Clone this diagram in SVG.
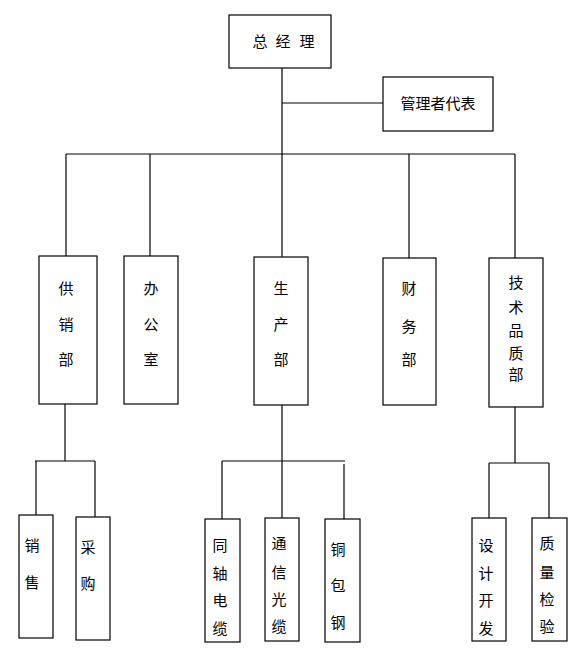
<svg xmlns="http://www.w3.org/2000/svg" width="585" height="657" viewBox="0 0 585 657">
<style>
rect{fill:#fff;stroke:#000;stroke-width:1.2}
line{stroke:#000;stroke-width:1.2}
text{font-family:"Noto Sans CJK SC","Noto Sans CJK JP",sans-serif;font-size:15px;fill:#000;text-anchor:middle}
</style>
<rect x="0" y="0" width="585" height="657" style="stroke:none"/>
<g id="connectors">
<line x1="282" y1="68" x2="282" y2="154"/>
<line x1="282" y1="103" x2="387" y2="103"/>
<line x1="66" y1="154" x2="515" y2="154"/>
<line x1="66" y1="154" x2="66" y2="256"/>
<line x1="150" y1="154" x2="150" y2="256"/>
<line x1="282" y1="154" x2="282" y2="257"/>
<line x1="409" y1="154" x2="409" y2="258"/>
<line x1="515" y1="154" x2="515" y2="258"/>
<line x1="65" y1="404" x2="65" y2="461"/>
<line x1="35" y1="461" x2="95" y2="461"/>
<line x1="36" y1="461" x2="36" y2="515"/>
<line x1="95" y1="461" x2="95" y2="517"/>
<line x1="282" y1="405" x2="282" y2="461"/>
<line x1="222" y1="461" x2="345" y2="461"/>
<line x1="222" y1="461" x2="222" y2="519"/>
<line x1="282" y1="461" x2="282" y2="518"/>
<line x1="344" y1="464" x2="344" y2="519"/>
<line x1="515" y1="407" x2="515" y2="463"/>
<line x1="489" y1="463" x2="549" y2="463"/>
<line x1="489" y1="463" x2="489" y2="518"/>
<line x1="549" y1="463" x2="549" y2="518"/>
</g>
<g id="zongjingli"><rect x="229" y="15" width="102" height="53"/><text x="260" y="47">总</text><text x="283" y="47">经</text><text x="307" y="47">理</text></g>
<g id="guanlizhedaibiao"><rect x="383" y="77" width="110" height="54"/><text x="438" y="109">管理者代表</text></g>
<g id="gongxiaobu"><rect x="39" y="256" width="58" height="148"/><text x="66" y="294">供</text><text x="66" y="330">销</text><text x="66" y="365">部</text></g>
<g id="bangongshi"><rect x="124" y="256" width="54" height="148"/><text x="151" y="294">办</text><text x="151" y="330">公</text><text x="151" y="365">室</text></g>
<g id="shengchanbu"><rect x="254" y="257" width="54" height="148"/><text x="281" y="294">生</text><text x="281" y="330">产</text><text x="281" y="365">部</text></g>
<g id="caiwubu"><rect x="383" y="258" width="53" height="147"/><text x="409" y="294">财</text><text x="409" y="332">务</text><text x="409" y="365">部</text></g>
<g id="jishupinzhibu"><rect x="489" y="258" width="54" height="149"/><text x="516" y="288">技</text><text x="516" y="313">术</text><text x="516" y="336">品</text><text x="516" y="359">质</text><text x="516" y="380">部</text></g>
<g id="xiaoshou"><rect x="19" y="515" width="34" height="123"/><text x="32" y="551">销</text><text x="32" y="588">售</text></g>
<g id="caigou"><rect x="76" y="517" width="34" height="123"/><text x="88" y="553">采</text><text x="88" y="589">购</text></g>
<g id="tongzhoudianlan"><rect x="205" y="519" width="35" height="123"/><text x="220" y="551">同</text><text x="220" y="579">轴</text><text x="220" y="606">电</text><text x="220" y="634">缆</text></g>
<g id="tongxinguanglan"><rect x="265" y="518" width="34" height="123"/><text x="279" y="549">通</text><text x="279" y="578">信</text><text x="279" y="605">光</text><text x="279" y="632">缆</text></g>
<g id="tongbaogang"><rect x="325" y="519" width="35" height="123"/><text x="338" y="555">铜</text><text x="338" y="591">包</text><text x="338" y="628">钢</text></g>
<g id="shejikaifa"><rect x="472" y="518" width="34" height="123"/><text x="486" y="551">设</text><text x="486" y="579">计</text><text x="486" y="606">开</text><text x="486" y="634">发</text></g>
<g id="zhiliangjianyan"><rect x="532" y="518" width="35" height="123"/><text x="547" y="549">质</text><text x="547" y="578">量</text><text x="547" y="605">检</text><text x="547" y="632">验</text></g>
</svg>
